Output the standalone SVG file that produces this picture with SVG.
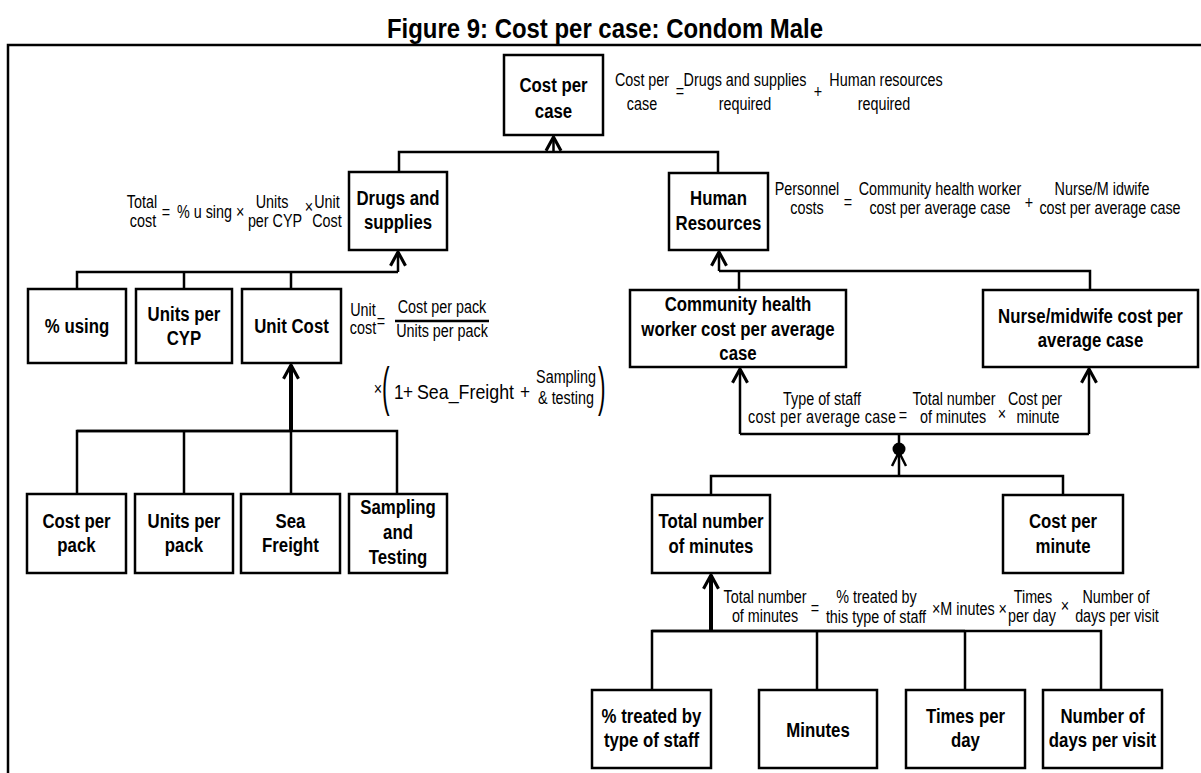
<svg xmlns="http://www.w3.org/2000/svg" width="1201" height="773" viewBox="0 0 1201 773">
<style>
.bx{fill:#fff;stroke:#000;stroke-width:2.5}
.ln{fill:none;stroke:#000;stroke-width:2.5}
.tk{fill:none;stroke:#000;stroke-width:4}
.lb{font-family:'Liberation Sans',Arial,sans-serif;font-weight:bold;font-size:20.5px;text-anchor:middle;fill:#000}
.f{font-family:'Liberation Sans',Arial,sans-serif;font-size:17.5px;fill:#000}
.m{text-anchor:middle}
.ti{font-family:'Liberation Sans',Arial,sans-serif;font-weight:bold;font-size:28px;text-anchor:middle}
</style>
<defs>
<marker id="ar" markerUnits="userSpaceOnUse" markerWidth="20" markerHeight="20" refX="0" refY="0" orient="auto" viewBox="-12 -8 14 16" overflow="visible">
<path d="M-11,-6 L0,0 L-11,6" fill="none" stroke="#000" stroke-width="2.5"/>
</marker>
</defs>
<rect width="1201" height="773" fill="#fff"/>
<text class="ti" transform="translate(605,38) scale(0.855,1)">Figure 9: Cost per case: Condom Male</text>
<path class="ln" d="M8,773 V45 H1201"/>

<g id="connectors">
<path class="ln" d="M399,172 V152 H718 V173"/>
<path class="ln" d="M553.5,152 V137" marker-end="url(#ar)"/>
<path class="ln" d="M398,272 V252" marker-end="url(#ar)"/>
<path class="ln" d="M77,289 V272 H398 M184,272 V289 M291,272 V289"/>
<path class="ln" d="M719,271 V252" marker-end="url(#ar)"/>
<path class="ln" d="M719,271 H1090 V290 M739,271 V290"/>
<path class="tk" d="M291,431 V365" marker-end="url(#ar)"/>
<path class="ln" d="M77,494 V431 H397 V494 M184,431 V494 M291,431 V494"/>
<path class="ln" d="M77,431 H291" stroke-width="3.2"/>
<path class="ln" d="M740,434 H1089"/>
<path class="ln" d="M740,434 V369" marker-end="url(#ar)"/>
<path class="ln" d="M1089,434 V369" marker-end="url(#ar)"/>
<path class="ln" d="M899,434 V476" stroke-width="3"/>
<circle cx="899" cy="449" r="6.5" fill="#000"/>
<path class="ln" d="M892,466 L899,452 L906,466"/>
<path class="ln" d="M711,495 V476 H1063 V495"/>
<path class="tk" d="M711,631 V575" marker-end="url(#ar)"/>
<path class="ln" d="M652,690 V631 H1101 V690 M817,631 V690 M965,631 V690"/>
<path class="ln" d="M652,631 H965" stroke-width="3.5"/>
</g>

<g id="n-cost-per-case"><rect class="bx" x="504" y="55" width="99" height="80"/><g transform="scale(0.82,1)"><text class="lb" x="674.98" y="92">Cost per</text><text class="lb" x="674.98" y="118">case</text></g></g>
<g id="n-drugs"><rect class="bx" x="349" y="172" width="98" height="78"/><g transform="scale(0.82,1)"><text class="lb" x="485.37" y="205">Drugs and</text><text class="lb" x="485.37" y="229">supplies</text></g></g>
<g id="n-human"><rect class="bx" x="669" y="173" width="99" height="77"/><g transform="scale(0.82,1)"><text class="lb" x="876.22" y="205">Human</text><text class="lb" x="876.22" y="230">Resources</text></g></g>
<g id="n-using"><rect class="bx" x="28" y="289" width="98" height="74"/><g transform="scale(0.82,1)"><text class="lb" x="93.9" y="333">% using</text></g></g>
<g id="n-units-cyp"><rect class="bx" x="136" y="289" width="96" height="74"/><g transform="scale(0.82,1)"><text class="lb" x="224.39" y="321">Units per</text><text class="lb" x="224.39" y="345">CYP</text></g></g>
<g id="n-unit-cost"><rect class="bx" x="242" y="289" width="99" height="74"/><g transform="scale(0.82,1)"><text class="lb" x="355.49" y="333">Unit Cost</text></g></g>
<g id="n-cost-pack"><rect class="bx" x="27" y="494" width="99" height="79"/><g transform="scale(0.82,1)"><text class="lb" x="93.29" y="528">Cost per</text><text class="lb" x="93.29" y="552">pack</text></g></g>
<g id="n-units-pack"><rect class="bx" x="135" y="494" width="98" height="79"/><g transform="scale(0.82,1)"><text class="lb" x="224.39" y="528">Units per</text><text class="lb" x="224.39" y="552">pack</text></g></g>
<g id="n-sea"><rect class="bx" x="241" y="494" width="99" height="79"/><g transform="scale(0.82,1)"><text class="lb" x="354.27" y="528">Sea</text><text class="lb" x="354.27" y="552">Freight</text></g></g>
<g id="n-sampling"><rect class="bx" x="349" y="494" width="98" height="79"/><g transform="scale(0.82,1)"><text class="lb" x="485.37" y="514">Sampling</text><text class="lb" x="485.37" y="539">and</text><text class="lb" x="485.37" y="564">Testing</text></g></g>
<g id="n-chw"><rect class="bx" x="630" y="290" width="216" height="77"/><g transform="scale(0.82,1)"><text class="lb" x="900" y="311">Community health</text><text class="lb" x="900" y="336">worker cost per average</text><text class="lb" x="900" y="360">case</text></g></g>
<g id="n-nurse"><rect class="bx" x="983" y="290" width="215" height="77"/><g transform="scale(0.82,1)"><text class="lb" x="1329.88" y="323">Nurse/midwife cost per</text><text class="lb" x="1329.88" y="347">average case</text></g></g>
<g id="n-total-min"><rect class="bx" x="652" y="495" width="118" height="78"/><g transform="scale(0.82,1)"><text class="lb" x="867.07" y="528">Total number</text><text class="lb" x="867.07" y="553">of minutes</text></g></g>
<g id="n-cost-min"><rect class="bx" x="1003" y="495" width="120" height="78"/><g transform="scale(0.82,1)"><text class="lb" x="1296.34" y="528">Cost per</text><text class="lb" x="1296.34" y="553">minute</text></g></g>
<g id="n-treated"><rect class="bx" x="592" y="690" width="119" height="78"/><g transform="scale(0.82,1)"><text class="lb" x="794.51" y="723">% treated by</text><text class="lb" x="794.51" y="747">type of staff</text></g></g>
<g id="n-minutes"><rect class="bx" x="759" y="690" width="118" height="78"/><g transform="scale(0.82,1)"><text class="lb" x="997.56" y="737">Minutes</text></g></g>
<g id="n-times"><rect class="bx" x="906" y="690" width="119" height="78"/><g transform="scale(0.82,1)"><text class="lb" x="1177.44" y="723">Times per</text><text class="lb" x="1177.44" y="747">day</text></g></g>
<g id="n-days"><rect class="bx" x="1043" y="690" width="119" height="78"/><g transform="scale(0.82,1)"><text class="lb" x="1344.51" y="723">Number of</text><text class="lb" x="1344.51" y="747">days per visit</text></g></g>

<g id="formula-cost-per-case" transform="scale(0.82,1)">
<text class="f m" x="782.93" y="86">Cost per</text><text class="f m" x="782.93" y="110">case</text>
<text class="f m" x="829.27" y="97">=</text>
<text class="f m" x="908.54" y="86">Drugs and supplies</text><text class="f m" x="908.54" y="110">required</text>
<text class="f m" x="997.56" y="98">+</text>
<text class="f m" x="1080.49" y="86">Human resources</text><text class="f m" x="1078.05" y="110">required</text>
</g>
<g id="formula-drugs" transform="scale(0.82,1)">
<text class="f m" x="173.17" y="208">Total</text><text class="f m" x="174.39" y="227">cost</text>
<text class="f m" x="202.44" y="218">=</text>
<text class="f" x="215.85" y="218">% u sing ×</text>
<text class="f m" x="331.71" y="208">Units</text><text class="f m" x="335.37" y="227">per CYP</text>
<text class="f m" x="376.83" y="213">×</text>
<text class="f m" x="398.78" y="208">Unit</text><text class="f m" x="398.78" y="227">Cost</text>
</g>
<g id="formula-human" transform="scale(0.82,1)">
<text class="f m" x="984.15" y="195">Personnel</text><text class="f m" x="984.15" y="214">costs</text>
<text class="f m" x="1034.15" y="208">=</text>
<text class="f m" x="1146.34" y="195">Community health worker</text><text class="f m" x="1146.34" y="214">cost per average case</text>
<text class="f m" x="1254.88" y="209">+</text>
<text class="f m" x="1343.9" y="195">Nurse/M idwife</text><text class="f m" x="1353.66" y="214">cost per average case</text>
</g>
<g id="formula-unit-cost">
<path class="ln" d="M395,321 H489" stroke-width="1.5"/>
<text class="f" transform="translate(382,405) scale(0.42,1)" style="font-size:54px">(</text>
<text class="f" transform="translate(598,405) scale(0.42,1)" style="font-size:54px">)</text>
<g transform="scale(0.82,1)">
<text class="f m" x="442.68" y="316">Unit</text><text class="f m" x="442.68" y="334">cost</text>
<text class="f m" x="464.63" y="327">=</text>
<text class="f m" x="539.02" y="313">Cost per pack</text><text class="f m" x="539.02" y="337">Units per pack</text>
<text class="f m" x="460.98" y="395">×</text>
<text class="f" x="480.49" y="399" style="font-size:21px">1</text>
<text class="f" x="491.46" y="399" style="font-size:21px">+</text>
<text class="f" x="508.54" y="399" style="font-size:21px" textLength="118.3" lengthAdjust="spacingAndGlyphs">Sea_Freight</text>
<text class="f" x="634.15" y="399" style="font-size:21px">+</text>
<text class="f m" x="690.24" y="383">Sampling</text><text class="f m" x="690.24" y="404">&amp; testing</text>
</g>
</g>
<g id="formula-staff" transform="scale(0.82,1)">
<text class="f m" x="1002.44" y="405">Type of staff</text><text class="f m" x="1002.44" y="423" textLength="180.5" lengthAdjust="spacing">cost per average case</text>
<text class="f m" x="1101.22" y="421">=</text>
<text class="f m" x="1163.41" y="405">Total number</text><text class="f m" x="1162.2" y="423">of minutes</text>
<text class="f m" x="1221.95" y="420">×</text>
<text class="f m" x="1262.2" y="405">Cost per</text><text class="f m" x="1265.85" y="423">minute</text>
</g>
<g id="formula-minutes" transform="scale(0.82,1)">
<text class="f m" x="932.93" y="603">Total number</text><text class="f m" x="932.93" y="622">of minutes</text>
<text class="f m" x="993.9" y="614">=</text>
<text class="f m" x="1068.9" y="603">% treated by</text><text class="f m" x="1068.29" y="623">this type of staff</text>
<text class="f" x="1136.59" y="615">×M inutes ×</text>
<text class="f m" x="1259.76" y="603">Times</text><text class="f m" x="1258.54" y="622">per day</text>
<text class="f m" x="1298.78" y="612">×</text>
<text class="f m" x="1360.98" y="603">Number of</text><text class="f m" x="1362.2" y="622">days per visit</text>
</g>
</svg>
